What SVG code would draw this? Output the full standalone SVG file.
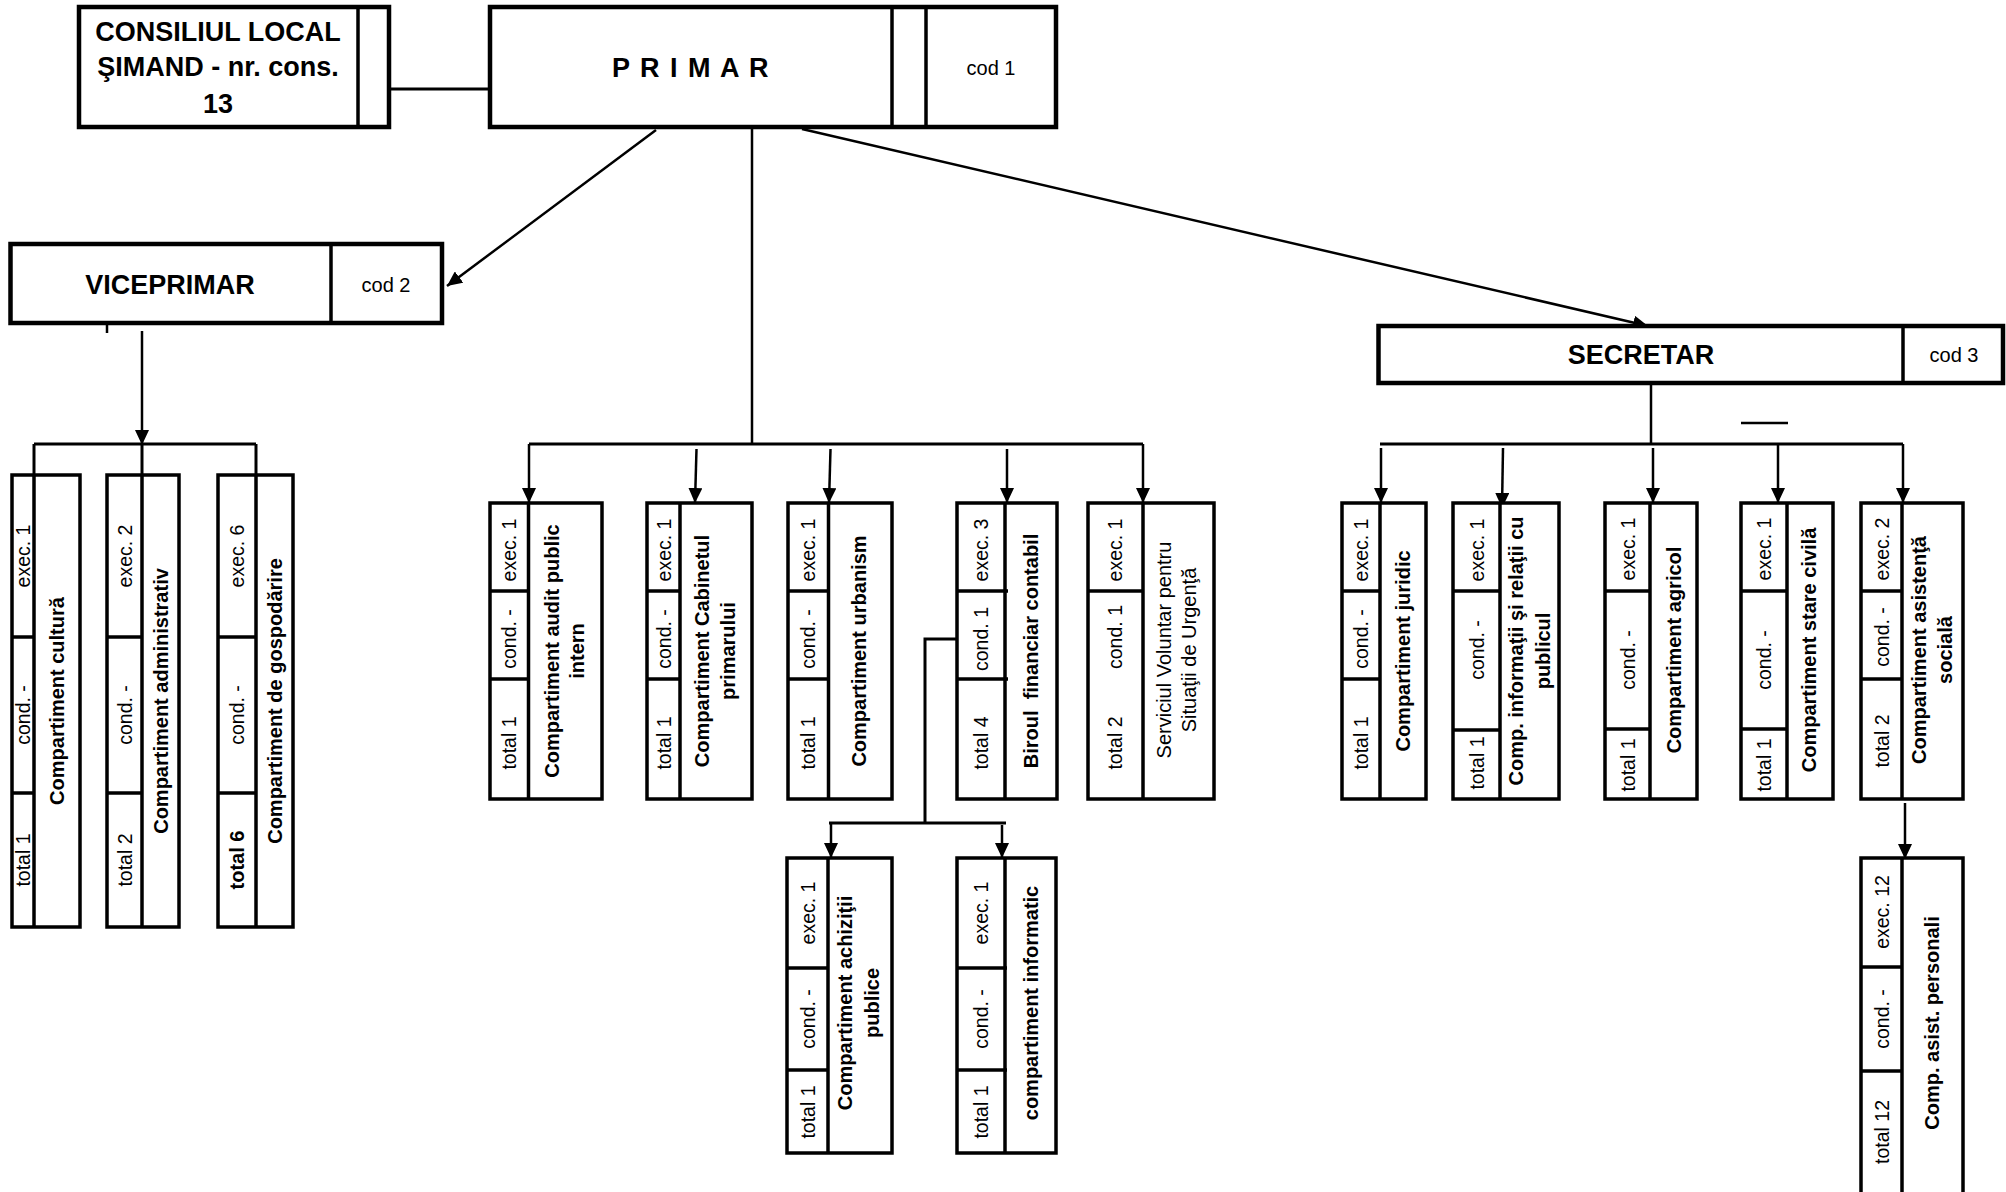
<svg xmlns="http://www.w3.org/2000/svg" width="2006" height="1192" viewBox="0 0 2006 1192">
<style>
.tbox{fill:#fff;stroke:#000;stroke-width:4.5}
.box{fill:#fff;stroke:#000;stroke-width:3.5}
.dv{stroke:#000;stroke-width:3.5;fill:none}
.ln{stroke:#000;stroke-width:3;fill:none}
.cn{stroke:#000;stroke-width:2.5;fill:none}
.t{font-family:"Liberation Sans",Arial,sans-serif;font-size:19.5px;text-anchor:middle;dominant-baseline:central;fill:#000}
.b{font-weight:bold;font-size:20px}
.h{font-weight:bold;font-size:27px}
.c{font-size:20px}
</style>
<defs>
<marker id="ar" markerUnits="userSpaceOnUse" markerWidth="15" markerHeight="14" refX="15" refY="7" orient="auto">
<path d="M0,0 L15,7 L0,14 z" fill="#000"/>
</marker>
</defs>
<rect width="2006" height="1192" fill="#fff"/>

<g id="connectors">
<line class="ln" x1="389" y1="89" x2="490" y2="89"/>
<line class="cn" x1="656" y1="130" x2="447" y2="286" marker-end="url(#ar)"/>
<line class="cn" x1="802" y1="129" x2="1648" y2="326" marker-end="url(#ar)"/>
<line class="cn" x1="752" y1="129" x2="752" y2="444"/>
<line class="ln" x1="529" y1="444" x2="1143" y2="444"/>
<line class="cn" x1="529" y1="444" x2="529" y2="503" marker-end="url(#ar)"/>
<line class="cn" x1="1143" y1="444" x2="1143" y2="503" marker-end="url(#ar)"/>
<line class="cn" x1="696.5" y1="449" x2="695" y2="503" marker-end="url(#ar)"/>
<line class="cn" x1="830.5" y1="449" x2="829" y2="503" marker-end="url(#ar)"/>
<line class="cn" x1="1007" y1="449" x2="1007" y2="503" marker-end="url(#ar)"/>
<line class="cn" x1="107" y1="325" x2="107" y2="333"/>
<line class="cn" x1="142" y1="331" x2="142" y2="445" marker-end="url(#ar)"/>
<line class="ln" x1="142" y1="444" x2="142" y2="475"/>
<line class="ln" x1="34" y1="444" x2="256" y2="444"/>
<line class="ln" x1="34" y1="444" x2="34" y2="475"/>
<line class="ln" x1="256" y1="444" x2="256" y2="475"/>
<line class="cn" x1="1651" y1="383" x2="1651" y2="444"/>
<line class="ln" x1="1380" y1="444" x2="1903" y2="444"/>
<line class="cn" x1="1381" y1="448" x2="1381" y2="503" marker-end="url(#ar)"/>
<line class="cn" x1="1503" y1="448" x2="1502" y2="508" marker-end="url(#ar)"/>
<line class="cn" x1="1653" y1="448" x2="1653" y2="503" marker-end="url(#ar)"/>
<line class="cn" x1="1778" y1="444" x2="1778" y2="503" marker-end="url(#ar)"/>
<line class="cn" x1="1903" y1="444" x2="1903" y2="503" marker-end="url(#ar)"/>
<line class="cn" x1="1741" y1="423" x2="1788" y2="423"/>
<polyline class="ln" points="957,639 925,639 925,823"/>
<line class="ln" x1="829" y1="823" x2="1006" y2="823"/>
<line class="cn" x1="831" y1="823" x2="831" y2="858" marker-end="url(#ar)"/>
<line class="cn" x1="1002" y1="825" x2="1002" y2="858" marker-end="url(#ar)"/>
<line class="cn" x1="1905" y1="803" x2="1905" y2="859" marker-end="url(#ar)"/>
</g>

<g id="consiliul">
<rect class="tbox" x="79" y="7" width="310" height="120"/>
<line class="dv" x1="358" y1="7" x2="358" y2="127"/>
<text class="t h" x="218" y="32">CONSILIUL LOCAL</text>
<text class="t h" x="218" y="67">ŞIMAND - nr. cons.</text>
<text class="t h" x="218" y="104">13</text>
</g>

<g id="primar">
<rect class="tbox" x="490" y="7" width="566" height="120"/>
<line class="dv" x1="892" y1="7" x2="892" y2="127"/>
<line class="dv" x1="926" y1="7" x2="926" y2="127"/>
<text class="t h" x="691" y="68" letter-spacing="1.5">P R I M A R</text>
<text class="t c" x="991" y="68">cod 1</text>
</g>

<g id="viceprimar">
<rect class="tbox" x="10.5" y="244" width="431.5" height="79"/>
<line class="dv" x1="331" y1="244" x2="331" y2="323"/>
<text class="t h" x="170" y="285">VICEPRIMAR</text>
<text class="t c" x="386" y="285">cod 2</text>
</g>

<g id="secretar">
<rect class="tbox" x="1378.5" y="326" width="624.5" height="57"/>
<line class="dv" x1="1903" y1="326" x2="1903" y2="383"/>
<text class="t h" x="1641" y="355">SECRETAR</text>
<text class="t c" x="1954" y="355">cod 3</text>
</g>

<!-- left group -->
<g id="cultura">
<rect class="box" x="12" y="475" width="68" height="452"/>
<line class="dv" x1="34" y1="475" x2="34" y2="927"/>
<line class="dv" x1="12" y1="637" x2="34" y2="637"/>
<line class="dv" x1="12" y1="793" x2="34" y2="793"/>
<text class="t" transform="translate(23,556) rotate(-90)">exec. 1</text>
<text class="t" transform="translate(23,715) rotate(-90)">cond. -</text>
<text class="t" transform="translate(23,860) rotate(-90)">total 1</text>
<text class="t b" transform="translate(57,701) rotate(-90)">Compartiment cultură</text>
</g>
<g id="administrativ">
<rect class="box" x="107" y="475" width="72" height="452"/>
<line class="dv" x1="142" y1="475" x2="142" y2="927"/>
<line class="dv" x1="107" y1="637" x2="142" y2="637"/>
<line class="dv" x1="107" y1="793" x2="142" y2="793"/>
<text class="t" transform="translate(124.5,556) rotate(-90)">exec. 2</text>
<text class="t" transform="translate(124.5,715) rotate(-90)">cond. -</text>
<text class="t" transform="translate(124.5,860) rotate(-90)">total 2</text>
<text class="t b" transform="translate(160.5,701) rotate(-90)">Compartiment administrativ</text>
</g>
<g id="gospodarire">
<rect class="box" x="218" y="475" width="75" height="452"/>
<line class="dv" x1="256" y1="475" x2="256" y2="927"/>
<line class="dv" x1="218" y1="637" x2="256" y2="637"/>
<line class="dv" x1="218" y1="793" x2="256" y2="793"/>
<text class="t" transform="translate(237,556) rotate(-90)">exec. 6</text>
<text class="t" transform="translate(237,715) rotate(-90)">cond. -</text>
<text class="t b" transform="translate(237,860) rotate(-90)">total 6</text>
<text class="t b" transform="translate(274.5,701) rotate(-90)">Compartiment de gospodărire</text>
</g>

<!-- primar group -->
<g id="audit">
<rect class="box" x="490" y="503" width="112" height="296"/>
<line class="dv" x1="528.5" y1="503" x2="528.5" y2="799"/>
<line class="dv" x1="490" y1="591" x2="528.5" y2="591"/>
<line class="dv" x1="490" y1="679" x2="528.5" y2="679"/>
<text class="t" transform="translate(509,550) rotate(-90)">exec. 1</text>
<text class="t" transform="translate(509,639) rotate(-90)">cond. -</text>
<text class="t" transform="translate(509,743) rotate(-90)">total 1</text>
<text class="t b" transform="translate(552,651) rotate(-90)">Compartiment audit public</text>
<text class="t b" transform="translate(577,651) rotate(-90)">intern</text>
</g>
<g id="cabinet">
<rect class="box" x="647" y="503" width="105" height="296"/>
<line class="dv" x1="680" y1="503" x2="680" y2="799"/>
<line class="dv" x1="647" y1="591" x2="680" y2="591"/>
<line class="dv" x1="647" y1="679" x2="680" y2="679"/>
<text class="t" transform="translate(663.5,550) rotate(-90)">exec. 1</text>
<text class="t" transform="translate(663.5,639) rotate(-90)">cond. -</text>
<text class="t" transform="translate(663.5,743) rotate(-90)">total 1</text>
<text class="t b" transform="translate(702,651) rotate(-90)">Compartiment Cabinetul</text>
<text class="t b" transform="translate(728,651) rotate(-90)">primarului</text>
</g>
<g id="urbanism">
<rect class="box" x="788" y="503" width="104" height="296"/>
<line class="dv" x1="828.5" y1="503" x2="828.5" y2="799"/>
<line class="dv" x1="788" y1="591" x2="828.5" y2="591"/>
<line class="dv" x1="788" y1="679" x2="828.5" y2="679"/>
<text class="t" transform="translate(808,550) rotate(-90)">exec. 1</text>
<text class="t" transform="translate(808,639) rotate(-90)">cond. -</text>
<text class="t" transform="translate(808,743) rotate(-90)">total 1</text>
<text class="t b" transform="translate(859,651) rotate(-90)">Compartiment urbanism</text>
</g>
<g id="birou">
<rect class="box" x="957" y="503" width="100" height="296"/>
<line class="dv" x1="1005" y1="503" x2="1005" y2="799"/>
<line class="dv" x1="957" y1="591" x2="1008" y2="591"/>
<line class="dv" x1="957" y1="679" x2="1008" y2="679"/>
<text class="t" transform="translate(981,550) rotate(-90)">exec. 3</text>
<text class="t" transform="translate(981,639) rotate(-90)">cond. 1</text>
<text class="t" transform="translate(981,743) rotate(-90)">total 4</text>
<text class="t b" xml:space="preserve" transform="translate(1031,651) rotate(-90)">Biroul  financiar contabil</text>
</g>
<g id="serviciul">
<rect class="box" x="1088" y="503" width="126" height="296"/>
<line class="dv" x1="1143" y1="503" x2="1143" y2="799"/>
<line class="dv" x1="1088" y1="591" x2="1143" y2="591"/>
<text class="t" transform="translate(1115,550) rotate(-90)">exec. 1</text>
<text class="t" transform="translate(1115,637) rotate(-90)">cond. 1</text>
<text class="t" transform="translate(1115,743) rotate(-90)">total 2</text>
<text class="t c" transform="translate(1164,650) rotate(-90)">Serviciul Voluntar pentru</text>
<text class="t c" transform="translate(1189,650) rotate(-90)">Situaţii de Urgenţă</text>
</g>

<!-- secretar group -->
<g id="juridic">
<rect class="box" x="1342" y="503" width="84" height="296"/>
<line class="dv" x1="1380" y1="503" x2="1380" y2="799"/>
<line class="dv" x1="1342" y1="591" x2="1380" y2="591"/>
<line class="dv" x1="1342" y1="679" x2="1380" y2="679"/>
<text class="t" transform="translate(1361,550) rotate(-90)">exec. 1</text>
<text class="t" transform="translate(1361,639) rotate(-90)">cond. -</text>
<text class="t" transform="translate(1361,743) rotate(-90)">total 1</text>
<text class="t b" transform="translate(1403,651) rotate(-90)">Compartiment juridic</text>
</g>
<g id="informatii">
<rect class="box" x="1453" y="503" width="106" height="296"/>
<line class="dv" x1="1500" y1="503" x2="1500" y2="799"/>
<line class="dv" x1="1453" y1="591" x2="1500" y2="591"/>
<line class="dv" x1="1453" y1="730" x2="1500" y2="730"/>
<text class="t" transform="translate(1476.5,550) rotate(-90)">exec. 1</text>
<text class="t" transform="translate(1476.5,650) rotate(-90)">cond. -</text>
<text class="t" transform="translate(1476.5,763) rotate(-90)">total 1</text>
<text class="t b" transform="translate(1516,651) rotate(-90)">Comp. informaţii şi relaţii cu</text>
<text class="t b" transform="translate(1543,651) rotate(-90)">publicul</text>
</g>
<g id="agricol">
<rect class="box" x="1605" y="503" width="92" height="296"/>
<line class="dv" x1="1650" y1="503" x2="1650" y2="799"/>
<line class="dv" x1="1605" y1="591" x2="1650" y2="591"/>
<line class="dv" x1="1605" y1="729" x2="1650" y2="729"/>
<text class="t" transform="translate(1627.5,549) rotate(-90)">exec. 1</text>
<text class="t" transform="translate(1627.5,660) rotate(-90)">cond. -</text>
<text class="t" transform="translate(1627.5,765) rotate(-90)">total 1</text>
<text class="t b" transform="translate(1674,650) rotate(-90)">Compartiment agricol</text>
</g>
<g id="starecivila">
<rect class="box" x="1741" y="503" width="92" height="296"/>
<line class="dv" x1="1787" y1="503" x2="1787" y2="799"/>
<line class="dv" x1="1741" y1="591" x2="1787" y2="591"/>
<line class="dv" x1="1741" y1="729" x2="1787" y2="729"/>
<text class="t" transform="translate(1764,549) rotate(-90)">exec. 1</text>
<text class="t" transform="translate(1764,660) rotate(-90)">cond. -</text>
<text class="t" transform="translate(1764,765) rotate(-90)">total 1</text>
<text class="t b" transform="translate(1809,650) rotate(-90)">Compartiment stare civilă</text>
</g>
<g id="asistenta">
<rect class="box" x="1861" y="503" width="102" height="296"/>
<line class="dv" x1="1902" y1="503" x2="1902" y2="799"/>
<line class="dv" x1="1861" y1="591" x2="1902" y2="591"/>
<line class="dv" x1="1861" y1="679" x2="1902" y2="679"/>
<text class="t" transform="translate(1881.5,549) rotate(-90)">exec. 2</text>
<text class="t" transform="translate(1881.5,637) rotate(-90)">cond. -</text>
<text class="t" transform="translate(1881.5,741) rotate(-90)">total 2</text>
<text class="t b" transform="translate(1919,650) rotate(-90)">Compartiment asistenţă</text>
<text class="t b" transform="translate(1945,650) rotate(-90)">socială</text>
</g>

<!-- lower -->
<g id="achizitii">
<rect class="box" x="787" y="858" width="105" height="295"/>
<line class="dv" x1="828" y1="858" x2="828" y2="1153"/>
<line class="dv" x1="787" y1="968" x2="828" y2="968"/>
<line class="dv" x1="787" y1="1070" x2="828" y2="1070"/>
<text class="t" transform="translate(807.5,913) rotate(-90)">exec. 1</text>
<text class="t" transform="translate(807.5,1019) rotate(-90)">cond. -</text>
<text class="t" transform="translate(807.5,1112) rotate(-90)">total 1</text>
<text class="t b" transform="translate(845,1003) rotate(-90)">Compartiment achiziţii</text>
<text class="t b" transform="translate(872,1003) rotate(-90)">publice</text>
</g>
<g id="informatic">
<rect class="box" x="957" y="858" width="99" height="295"/>
<line class="dv" x1="1005" y1="858" x2="1005" y2="1153"/>
<line class="dv" x1="957" y1="968" x2="1007" y2="968"/>
<line class="dv" x1="957" y1="1070" x2="1007" y2="1070"/>
<text class="t" transform="translate(981,913) rotate(-90)">exec. 1</text>
<text class="t" transform="translate(981,1019) rotate(-90)">cond. -</text>
<text class="t" transform="translate(981,1112) rotate(-90)">total 1</text>
<text class="t b" transform="translate(1031,1003) rotate(-90)">compartiment informatic</text>
</g>
<g id="asistpersonali">
<rect class="box" x="1861" y="858" width="102" height="360"/>
<line class="dv" x1="1902" y1="858" x2="1902" y2="1218"/>
<line class="dv" x1="1861" y1="967" x2="1902" y2="967"/>
<line class="dv" x1="1861" y1="1071" x2="1902" y2="1071"/>
<text class="t" transform="translate(1881.5,912) rotate(-90)">exec. 12</text>
<text class="t" transform="translate(1881.5,1019) rotate(-90)">cond. -</text>
<text class="t" transform="translate(1881.5,1132) rotate(-90)">total 12</text>
<text class="t b" transform="translate(1932,1023) rotate(-90)">Comp. asist. personali</text>
</g>
</svg>
